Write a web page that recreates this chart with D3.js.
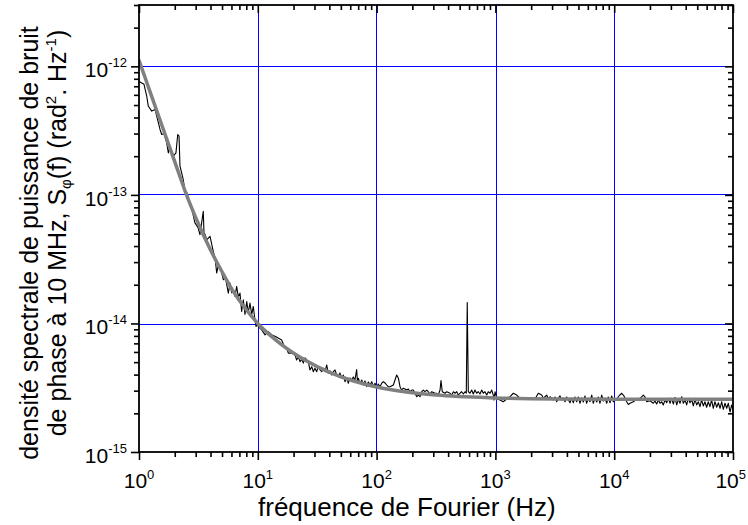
<!DOCTYPE html>
<html>
<head>
<meta charset="utf-8">
<script src="https://cdn.jsdelivr.net/npm/d3@7"></script>
<style>
  html, body { margin: 0; padding: 0; background: #fff; }
  svg { display: block; font-family: "Liberation Sans", Arial, sans-serif; }
</style>
</head>
<body>
<svg id="chart" width="748" height="525"></svg>
<script>
// ---------- data ----------
// measured trace: log10(frequency / Hz) and log10(S_phi)
const measLogF = [
  0.002,0.008,0.042,0.065,0.078,0.107,0.135,0.177,0.191,0.210,0.233,0.247,0.261,0.289,0.311,0.326,0.337,0.345,0.359,0.372,0.387,0.407,
  0.415,0.438,0.471,0.497,0.513,0.541,0.547,0.556,0.572,0.598,0.625,0.640,0.654,0.668,0.682,0.696,0.710,0.728,0.752,0.766,0.780,0.794,
  0.808,0.822,0.836,0.850,0.864,0.878,0.892,0.907,0.920,0.934,0.949,0.962,0.976,0.985,0.996,
  1.004,1.033,1.061,1.088,1.120,1.153,1.201,1.221,1.243,1.257,1.285,1.313,1.327,1.341,1.355,1.370,1.383,1.397,1.425,1.439,1.454,1.467,
  1.481,1.496,1.509,1.524,1.538,1.551,1.566,1.580,1.593,1.608,1.622,1.636,1.650,1.664,1.678,1.692,1.707,1.720,1.734,1.748,1.762,1.776,
  1.790,1.804,1.818,1.832,1.839,1.846,1.860,1.875,1.888,1.902,1.917,1.930,1.944,1.959,1.972,1.987,2.001,
  2.014,2.029,2.043,2.056,2.071,2.085,2.098,2.113,2.141,2.155,2.169,2.183,2.197,2.211,2.225,2.239,2.253,2.267,2.281,2.296,2.309,2.338,
  2.351,2.365,2.380,2.393,2.407,2.422,2.435,2.449,2.464,2.492,2.506,2.519,2.534,2.542,2.553,2.576,2.590,2.618,2.632,2.646,2.660,2.674,
  2.688,2.702,2.716,2.730,2.744,2.755,2.763,2.772,2.786,2.800,2.814,2.828,2.842,2.856,2.870,2.885,2.898,2.912,2.927,2.940,2.955,2.969,
  2.982,2.988,2.997,
  3.013,3.039,3.066,3.095,3.123,3.151,3.179,3.207,3.249,3.291,3.333,3.361,3.390,3.403,3.432,3.445,3.460,3.487,3.502,3.516,3.529,3.544,
  3.558,3.572,3.586,3.600,3.628,3.642,3.656,3.670,3.684,3.698,3.712,3.726,3.740,3.754,3.768,3.782,3.796,3.811,3.824,3.838,3.853,3.866,
  3.880,3.895,3.908,3.923,3.937,3.950,3.965,3.979,3.993,
  4.021,4.040,4.063,4.082,4.105,4.119,4.133,4.161,4.189,4.218,4.245,4.259,4.274,4.301,4.329,4.343,4.358,4.372,4.386,4.400,4.413,4.428,
  4.442,4.455,4.470,4.484,4.498,4.512,4.526,4.540,4.554,4.568,4.582,4.596,4.610,4.624,4.638,4.653,4.666,4.680,4.694,4.708,4.722,4.736,
  4.750,4.764,4.778,4.792,4.806,4.820,4.834,4.848,4.863,4.877,4.891,4.905,4.918,4.933,4.947,4.961,4.975,4.989,5.000
];
const measLogS = [
  -12.115,-12.122,-12.140,-12.231,-12.309,-12.348,-12.335,-12.491,-12.530,-12.522,-12.595,-12.673,-12.621,-12.699,-12.673,-12.530,-12.543,-12.777,-12.829,-12.880,-12.965,-12.990,
  -13.037,-13.083,-13.218,-13.255,-13.309,-13.128,-13.294,-13.309,-13.348,-13.323,-13.440,-13.489,-13.608,-13.543,-13.567,-13.608,-13.660,-13.645,-13.764,-13.686,-13.761,-13.738,
  -13.790,-13.712,-13.793,-13.764,-13.907,-13.816,-13.930,-13.829,-13.917,-13.842,-13.930,-13.868,-13.972,-14.024,-13.998,
  -14.024,-14.050,-14.089,-14.063,-14.089,-14.104,-14.128,-14.175,-14.193,-14.231,-14.231,-14.245,-14.284,-14.258,-14.297,-14.278,-14.309,-14.268,-14.297,-14.362,-14.336,-14.375,
  -14.348,-14.375,-14.336,-14.362,-14.375,-14.348,-14.375,-14.323,-14.387,-14.369,-14.401,-14.375,-14.362,-14.401,-14.414,-14.385,-14.426,-14.401,-14.453,-14.424,-14.465,-14.424,
  -14.440,-14.416,-14.440,-14.358,-14.453,-14.426,-14.465,-14.440,-14.479,-14.447,-14.492,-14.455,-14.479,-14.453,-14.492,-14.465,-14.504,
  -14.471,-14.492,-14.465,-14.453,-14.463,-14.479,-14.492,-14.492,-14.479,-14.440,-14.401,-14.424,-14.492,-14.518,-14.504,-14.510,-14.518,-14.510,-14.531,-14.518,-14.518,-14.570,
  -14.557,-14.570,-14.531,-14.518,-14.531,-14.518,-14.531,-14.549,-14.531,-14.543,-14.543,-14.557,-14.518,-14.445,-14.531,-14.543,-14.531,-14.543,-14.557,-14.531,-14.543,-14.531,
  -14.557,-14.543,-14.531,-14.549,-14.531,-14.543,-13.837,-14.531,-14.543,-14.518,-14.549,-14.518,-14.543,-14.531,-14.549,-14.518,-14.543,-14.531,-14.557,-14.531,-14.543,-14.518,
  -14.557,-14.596,-14.531,
  -14.588,-14.595,-14.609,-14.588,-14.570,-14.543,-14.557,-14.582,-14.588,-14.582,-14.588,-14.543,-14.557,-14.582,-14.557,-14.588,-14.570,-14.595,-14.572,-14.609,-14.582,-14.564,
  -14.595,-14.580,-14.609,-14.572,-14.617,-14.580,-14.617,-14.572,-14.609,-14.572,-14.621,-14.580,-14.611,-14.564,-14.621,-14.582,-14.609,-14.557,-14.621,-14.580,-14.611,-14.572,
  -14.621,-14.557,-14.604,-14.580,-14.621,-14.572,-14.617,-14.564,-14.609,
  -14.588,-14.564,-14.543,-14.564,-14.609,-14.630,-14.621,-14.609,-14.590,-14.582,-14.557,-14.572,-14.609,-14.601,-14.621,-14.604,-14.627,-14.595,-14.621,-14.609,-14.634,-14.595,
  -14.617,-14.582,-14.621,-14.582,-14.627,-14.575,-14.634,-14.590,-14.621,-14.570,-14.621,-14.595,-14.634,-14.582,-14.617,-14.595,-14.642,-14.590,-14.634,-14.609,-14.647,-14.595,
  -14.642,-14.609,-14.652,-14.609,-14.647,-14.595,-14.660,-14.609,-14.652,-14.617,-14.660,-14.609,-14.668,-14.621,-14.660,-14.621,-14.689,-14.634,-14.673
];
// fitted (grey) curve: log10(f) and log10(S_phi)
const fitLogF = [0, 0.1, 0.2, 0.3, 0.4, 0.5, 0.6, 0.7, 0.8, 0.9, 1.0, 1.2, 1.4, 1.6, 1.8, 2.0, 2.25, 2.5, 3.0, 3.5, 4.0, 4.5, 5.0];
const fitLogS = [-11.953, -12.216, -12.478, -12.739, -13.0, -13.225, -13.425, -13.6, -13.76, -13.89, -14.0, -14.164, -14.286, -14.378, -14.446, -14.494, -14.533, -14.557, -14.579, -14.587, -14.589, -14.59, -14.59];
// tick labels (exponents of ten)
const xTickExps = [0, 1, 2, 3, 4, 5];
const yTickExps = [-15, -14, -13, -12];
const xTitle = "fréquence de Fourier (Hz)";
const yTitle1 = "densité spectrale de puissance de bruit";

// ---------- layout ----------
const L = 139, R = 733, T = 5, B = 452;
const svg = d3.select("#chart");
const x = d3.scaleLog().domain([1, 1e5]).range([L, R]);
const y = d3.scaleLog().domain([1e-15, 3e-12]).range([B, T]);
// crisp 1px grid lines, snapped to the pixel grid
const cx = v => 2 * Math.round(x(v) / 2) + 0.5;
const cy = v => 2 * Math.round(y(v) / 2) + 0.5;

// minor tick values
const xMinor = [], yMinor = [];
for (let k = 0; k < 5; k++) for (let m = 2; m <= 9; m++) xMinor.push(m * Math.pow(10, k));
for (let k = -15; k <= -12; k++) for (let m = 2; m <= 9; m++) { const v = m * Math.pow(10, k); if (v <= 3.0001e-12) yMinor.push(v); }
const xMajor = xTickExps.map(e => Math.pow(10, e));
const yMajor = yTickExps.map(e => Math.pow(10, e));

// grid
const grid = svg.append("g").attr("stroke", "#0000ff").attr("stroke-width", 1).attr("shape-rendering", "crispEdges");
grid.selectAll("line.gx").data(xMajor.slice(1, -1)).enter().append("line").attr("class", "gx")
  .attr("x1", d => cx(d)).attr("x2", d => cx(d)).attr("y1", T).attr("y2", B);
grid.selectAll("line.gy").data(yMajor.slice(1)).enter().append("line").attr("class", "gy")
  .attr("x1", L).attr("x2", R).attr("y1", d => cy(d)).attr("y2", d => cy(d));

// curves
svg.append("clipPath").attr("id", "clip").append("rect").attr("x", L).attr("y", T).attr("width", R - L).attr("height", B - T);
const meas = measLogF.map((f, i) => [Math.pow(10, f), Math.pow(10, measLogS[i])]);
const fit = fitLogF.map((f, i) => [Math.pow(10, f), Math.pow(10, fitLogS[i])]);
const plot = svg.append("g").attr("clip-path", "url(#clip)");
plot.append("path").datum(meas)
  .attr("fill", "none").attr("stroke", "#000").attr("stroke-width", 1.1).attr("stroke-linejoin", "round")
  .attr("d", d3.line().x(d => x(d[0])).y(d => y(d[1])));
plot.append("path").datum(fit)
  .attr("fill", "none").attr("stroke", "#808080").attr("stroke-width", 3.5).attr("stroke-linecap", "round")
  .attr("d", d3.line().x(d => x(d[0])).y(d => y(d[1])).curve(d3.curveMonotoneX));

// axes (ticks only)
function ticks(axis, tr) {
  const g = svg.append("g").attr("transform", tr).call(axis);
  g.select(".domain").remove();
  g.selectAll("text").remove();
  g.selectAll("line").attr("stroke", "#000").attr("stroke-width", 1.6);
  return g;
}
ticks(d3.axisBottom(x).tickValues(xMajor).tickSize(8), `translate(0,${B})`);
ticks(d3.axisBottom(x).tickValues(xMinor).tickSize(5), `translate(0,${B})`);
ticks(d3.axisBottom(x).tickValues(xMajor).tickSize(8), `translate(0,${T})`);
ticks(d3.axisBottom(x).tickValues(xMinor).tickSize(5), `translate(0,${T})`);
ticks(d3.axisLeft(y).tickValues(yMajor).tickSize(8), `translate(${L},0)`);
ticks(d3.axisLeft(y).tickValues(yMinor).tickSize(5), `translate(${L},0)`);
ticks(d3.axisLeft(y).tickValues(yMajor).tickSize(8), `translate(${R},0)`);
ticks(d3.axisLeft(y).tickValues(yMinor).tickSize(5), `translate(${R},0)`);

// frame
svg.append("rect").attr("x", L).attr("y", T).attr("width", R - L).attr("height", B - T)
  .attr("fill", "none").attr("stroke", "#000").attr("stroke-width", 1.8);

// tick labels
const xl = svg.append("g").attr("font-size", 21).attr("fill", "#000");
xTickExps.forEach((e, i) => {
  const last = i === xTickExps.length - 1;
  const t = xl.append("text")
    .attr("x", last ? 746 : x(Math.pow(10, e)))
    .attr("y", 487.5).attr("text-anchor", last ? "end" : "middle");
  t.append("tspan").text("10");
  t.append("tspan").attr("dy", -9).attr("font-size", 13).text(String(e));
});
const yl = svg.append("g").attr("font-size", 21).attr("fill", "#000");
yTickExps.forEach(e => {
  const t = yl.append("text").attr("x", 127).attr("y", y(Math.pow(10, e)) + 11).attr("text-anchor", "end");
  t.append("tspan").text("10");
  t.append("tspan").attr("dy", -10).attr("font-size", 13).text(String(e));
});

// axis titles
svg.append("text").attr("x", 258).attr("y", 516).attr("font-size", 26).text(xTitle);
svg.append("text").attr("transform", "translate(38,243) rotate(-90)").attr("text-anchor", "middle")
  .attr("font-size", 25).text(yTitle1);
const t2 = svg.append("text").attr("transform", "translate(66,233) rotate(-90)").attr("text-anchor", "middle").attr("font-size", 25);
t2.append("tspan").text("de phase à 10 MHz, S");
t2.append("tspan").attr("dy", 5).attr("font-size", 15).text("φ");
t2.append("tspan").attr("dy", -5).text("(f) (rad");
t2.append("tspan").attr("dy", -10).attr("font-size", 15).text("2");
t2.append("tspan").attr("dy", 10).text(". Hz");
t2.append("tspan").attr("dy", -10).attr("font-size", 15).text("-1");
t2.append("tspan").attr("dy", 10).text(")");
</script>
</body>
</html>
